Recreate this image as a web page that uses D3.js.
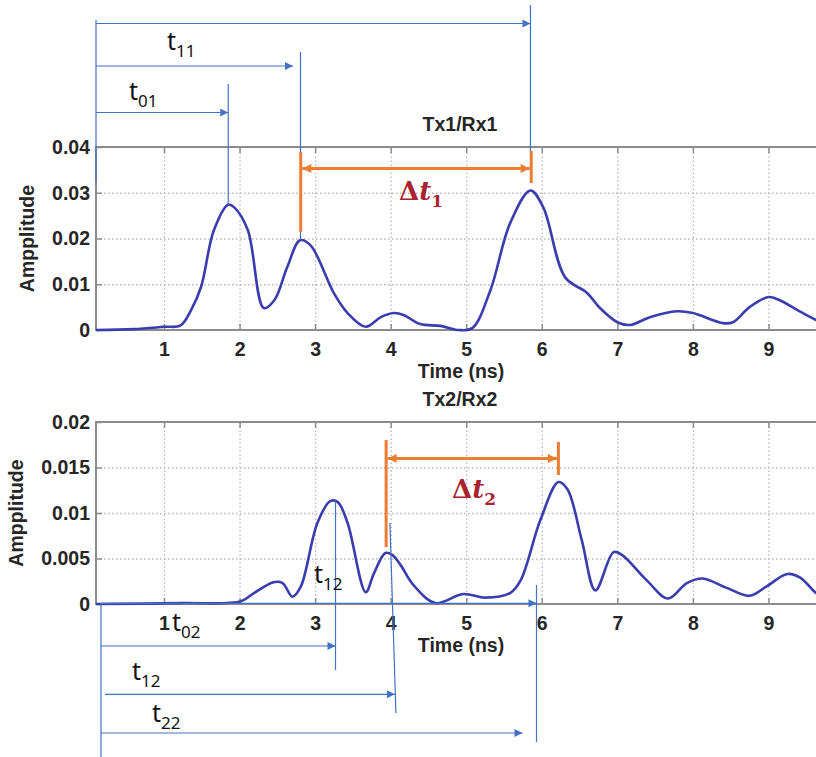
<!DOCTYPE html>
<html>
<head>
<meta charset="utf-8">
<script src="https://cdn.jsdelivr.net/npm/d3@7"></script>
<style>
  body { margin: 0; background: #fff; }
  svg { display: block; }
</style>
</head>
<body>
<svg id="fig" width="816" height="757"></svg>
<script>
// ---- data ----
const timeTicks = [1, 2, 3, 4, 5, 6, 7, 8, 9];
const ampTicks1 = [0, 0.01, 0.02, 0.03, 0.04];
const ampLabels1 = ["0", "0.01", "0.02", "0.03", "0.04"];
const ampTicks2 = [0, 0.005, 0.01, 0.015, 0.02];
const ampLabels2 = ["0", "0.005", "0.01", "0.015", "0.02"];

// Tx1/Rx1 received pulse (time in ns, amplitude)
const time1 = [0.1, 0.6, 1.0, 1.22, 1.36, 1.49, 1.66, 1.85, 1.93, 2.11, 2.32, 2.46, 2.63, 2.8, 2.94,
  3.25, 3.43, 3.67, 3.87, 4.04, 4.17, 4.39, 4.66, 4.9, 5.08, 5.32, 5.58, 5.85, 6.02, 6.31, 6.6,
  6.77, 7.0, 7.17, 7.43, 7.79, 8.0, 8.4, 8.53, 8.75, 9.0, 9.15, 9.42, 9.63, 9.8];
const amp1 = [0, 0.0002, 0.0007, 0.001, 0.0044, 0.0094, 0.0218, 0.0274, 0.0268, 0.0218, 0.0048, 0.0065, 0.0137, 0.0196, 0.0185,
  0.008, 0.0037, 0.0007, 0.0028, 0.0037, 0.0033, 0.0013, 0.0009, 0.0, 0.0004, 0.0087, 0.0233, 0.0305, 0.0268, 0.0115, 0.0081,
  0.0048, 0.0017, 0.0011, 0.0028, 0.0041, 0.0037, 0.0015, 0.0017, 0.005, 0.0072, 0.0065, 0.004, 0.0022, 0.0012];

// Tx2/Rx2 received pulse
const time2 = [0.1, 1.22, 2.02, 2.19, 2.45, 2.57, 2.7, 2.81, 3.03, 3.2, 3.3, 3.43, 3.67, 3.78, 3.93, 4.02,
  4.13, 4.3, 4.59, 4.96, 5.25, 5.58, 5.72, 5.98, 6.22, 6.34, 6.53, 6.71, 6.95, 7.06, 7.39, 7.67, 7.92,
  8.13, 8.44, 8.75, 8.97, 9.25, 9.42, 9.63, 9.8];
const amp2 = [0, 0.0001, 0.0003, 0.0012, 0.0024, 0.0023, 0.0008, 0.0019, 0.0089, 0.0113, 0.0112, 0.0089, 0.0013, 0.0034, 0.0056, 0.0054,
  0.0043, 0.0021, 0.0001, 0.0011, 0.0007, 0.0012, 0.0026, 0.0092, 0.0134, 0.0126, 0.0070, 0.0015, 0.0057, 0.0054, 0.0026, 0.0006, 0.0023,
  0.0028, 0.0018, 0.0009, 0.0019, 0.0033, 0.0029, 0.0012, 0.0003];

// Peak times used by the timing annotations (ns)
const peaks1 = [1.85, 2.8, 5.85];          // t01, t11, third arrival
const peaks2 = [3.27, 3.99, 5.93];         // t02, t12, t22
const delta1 = [2.81, 5.86];               // Δt1 span
const delta2 = [3.94, 6.22];               // Δt2 span

// ---- layout ----
const svg = d3.select("#fig");
const W = 816, H = 757;
const plotLeft = 96, plotRight = 844;
const panels = [
  { title: "Tx1/Rx1", top: 147, bottom: 330, domain: [0, 0.04], ticks: ampTicks1, labels: ampLabels1,
    time: time1, amp: amp1, ylabelX: 34 },
  { title: "Tx2/Rx2", top: 422, bottom: 604, domain: [0, 0.02], ticks: ampTicks2, labels: ampLabels2,
    time: time2, amp: amp2, ylabelX: 23 }
];

const x = d3.scaleLinear().domain([0.1, 10]).range([plotLeft, plotRight]);
const axisFont = "'Liberation Sans', Arial, sans-serif";
const textCol = "#262626";
const boxCol = "#8c8c8c";
const curveCol = "#3b3cae";
const annoBlue = "#4472c4";
const orange = "#ed7d31";
const deltaRed = "#a8232f";

svg.append("rect").attr("width", W).attr("height", H).attr("fill", "#fff");

const defs = svg.append("defs");
function marker(id, color, w, h) {
  defs.append("marker")
    .attr("id", id)
    .attr("viewBox", "0 0 10 10")
    .attr("refX", 10).attr("refY", 5)
    .attr("markerUnits", "userSpaceOnUse")
    .attr("markerWidth", w).attr("markerHeight", h)
    .attr("orient", "auto-start-reverse")
    .append("path").attr("d", "M0,0 L10,5 L0,10 Z").attr("fill", color);
}
marker("arrBlue", annoBlue, 10, 8);
marker("arrOrange", orange, 11, 9);

panels.forEach(p => {
  const y = d3.scaleLinear().domain(p.domain).range([p.bottom, p.top]);
  p.y = y;
  const g = svg.append("g");

  // dotted grid
  g.append("g")
    .attr("transform", `translate(0,${p.bottom})`)
    .call(d3.axisBottom(x).tickValues(timeTicks).tickSize(-(p.bottom - p.top)).tickFormat(""))
    .call(a => a.select(".domain").remove())
    .call(a => a.selectAll("line").attr("stroke", "#b8b8b8").attr("stroke-width", 1.3).attr("stroke-dasharray", "1.5,2.5"));
  g.append("g")
    .attr("transform", `translate(${plotLeft},0)`)
    .call(d3.axisLeft(y).tickValues(p.ticks.slice(1, -1)).tickSize(-(W - plotLeft)).tickFormat(""))
    .call(a => a.select(".domain").remove())
    .call(a => a.selectAll("line").attr("stroke", "#b8b8b8").attr("stroke-width", 1.3).attr("stroke-dasharray", "1.5,2.5"));

  // axes with inward ticks
  g.append("g")
    .attr("transform", `translate(0,${p.bottom})`)
    .call(d3.axisBottom(x).tickValues(timeTicks).tickSize(-6).tickPadding(12.5).tickFormat(d3.format("d")))
    .call(a => a.select(".domain").remove())
    .call(a => a.selectAll("line").attr("stroke", boxCol).attr("stroke-width", 1.5))
    .call(a => a.selectAll("text").attr("font-family", axisFont).attr("font-weight", "bold")
      .attr("font-size", 19.5).attr("fill", textCol));
  g.append("g")
    .attr("transform", `translate(0,${p.top})`)
    .call(d3.axisTop(x).tickValues(timeTicks).tickSize(-6).tickFormat(""))
    .call(a => a.select(".domain").remove())
    .call(a => a.selectAll("line").attr("stroke", boxCol).attr("stroke-width", 1.5));
  g.append("g")
    .attr("transform", `translate(${plotLeft},0)`)
    .call(d3.axisLeft(y).tickValues(p.ticks).tickSize(-6).tickPadding(6)
      .tickFormat((d, i) => p.labels[i]))
    .call(a => a.select(".domain").remove())
    .call(a => a.selectAll("line").attr("stroke", boxCol).attr("stroke-width", 1.5))
    .call(a => a.selectAll("text").attr("font-family", axisFont).attr("font-weight", "bold")
      .attr("font-size", 19.5).attr("fill", textCol));

  // frame
  g.append("path")
    .attr("d", `M${W},${p.top} H${plotLeft} V${p.bottom} H${W}`)
    .attr("fill", "none").attr("stroke", boxCol).attr("stroke-width", 2);

  // titles and axis labels
  g.append("text").attr("x", 460).attr("y", p.top - 16).attr("text-anchor", "middle")
    .attr("font-family", axisFont).attr("font-weight", "bold").attr("font-size", 19.5).attr("fill", textCol)
    .text(p.title);
  g.append("text").attr("x", 461).attr("y", p.bottom + 48).attr("text-anchor", "middle")
    .attr("font-family", axisFont).attr("font-weight", "bold").attr("font-size", 19.5).attr("fill", textCol)
    .text("Time (ns)");
  g.append("text")
    .attr("transform", `translate(${p.ylabelX},${(p.top + p.bottom) / 2}) rotate(-90)`)
    .attr("text-anchor", "middle")
    .attr("font-family", axisFont).attr("font-weight", "bold").attr("font-size", 19.5).attr("fill", textCol)
    .text("Ampplitude");

  // signal
  const pts = p.time.map((t, i) => [t, p.amp[i]]);
  g.append("path")
    .datum(pts)
    .attr("d", d3.line().x(d => x(d[0])).y(d => y(d[1])).curve(d3.curveCatmullRom.alpha(0.5)))
    .attr("fill", "none").attr("stroke", curveCol).attr("stroke-width", 2.6)
    .attr("stroke-linejoin", "round");
});

const panelA = panels[0], panelB = panels[1];
const ampAt = (p, t) => p.amp[p.time.indexOf(t)];

// ---- timing annotations ----
const ann = svg.append("g");
function bline(x1, y1, x2, y2, arrow) {
  const l = ann.append("line").attr("x1", x1).attr("y1", y1).attr("x2", x2).attr("y2", y2)
    .attr("stroke", annoBlue).attr("stroke-width", 1.2);
  if (arrow) l.attr("marker-end", "url(#arrBlue)");
  return l;
}
function tlabel(xp, yp, main, sub) {
  const t = ann.append("text").attr("x", xp).attr("y", yp)
    .attr("font-family", "'Noto Sans', 'Open Sans', sans-serif").attr("font-size", 25).attr("fill", "#111");
  t.append("tspan").text(main);
  t.append("tspan").attr("font-size", 17).attr("dy", 7).text(sub);
}

// upper panel: arrows from the origin line to each arrival
bline(plotLeft, 20, plotLeft, 182);
bline(x(peaks1[2]), 5, x(peaks1[2]), 152);
bline(plotLeft, 23.5, x(peaks1[2]), 23.5, true);
bline(x(peaks1[1]) + 0.5, 52, x(peaks1[1]) + 0.5, panelA.y(ampAt(panelA, peaks1[1])));
bline(plotLeft, 66, x(peaks1[1]) - 7, 66, true);
bline(x(peaks1[0]), 84, x(peaks1[0]), panelA.y(ampAt(panelA, peaks1[0])));
bline(plotLeft, 112.5, x(peaks1[0]), 112.5, true);
tlabel(167, 50, "t", "11");
tlabel(129, 100, "t", "01");

// lower panel
const x0b = x(0.166);
bline(x0b, 603, x0b, H);
bline(x0b, 603.3, x(peaks2[2]), 603.3, true);
bline(x(peaks2[2]), 585, x(peaks2[2]), 742);
bline(x(peaks2[0]), panelB.y(0.0113), x(peaks2[0]), 670);
bline(x0b, 646, x(peaks2[0]), 646, true);
bline(x(peaks2[1]), 523, x(peaks2[1]) + 6, 713);
bline(x0b + 4, 694.3, x(peaks2[1]) + 5, 694.3, true);
bline(x0b, 733, x(peaks2[2]) - 14, 733, true);
tlabel(314, 583, "t", "12");
tlabel(172, 631, "t", "02");
tlabel(132, 680, "t", "12");
tlabel(152, 722, "t", "22");

// ---- Δt spans ----
function deltaSpan(span, yRow, leftY, rightY, lx, ly, sub) {
  const xa = x(span[0]), xb = x(span[1]);
  ann.append("line").attr("x1", xa).attr("x2", xa).attr("y1", leftY[0]).attr("y2", leftY[1])
    .attr("stroke", orange).attr("stroke-width", 3);
  ann.append("line").attr("x1", xb).attr("x2", xb).attr("y1", rightY[0]).attr("y2", rightY[1])
    .attr("stroke", orange).attr("stroke-width", 3);
  ann.append("line").attr("x1", xa + 1.5).attr("x2", xb - 1.5).attr("y1", yRow).attr("y2", yRow)
    .attr("stroke", orange).attr("stroke-width", 3)
    .attr("marker-start", "url(#arrOrange)").attr("marker-end", "url(#arrOrange)");
  const t = ann.append("text").attr("x", lx).attr("y", ly)
    .attr("font-family", "'DejaVu Serif', 'Liberation Serif', serif").attr("font-size", 26)
    .attr("font-weight", "bold").attr("fill", deltaRed);
  t.append("tspan").text("Δ");
  t.append("tspan").attr("font-style", "italic").text("t");
  t.append("tspan").attr("font-size", 17).attr("dy", 7).text(sub);
}
deltaSpan(delta1, 168.5, [152, 232], [151, 183], 399, 200, "1");
deltaSpan(delta2, 458.5, [440, 547], [442, 475], 452, 498, "2");
</script>
</body>
</html>
